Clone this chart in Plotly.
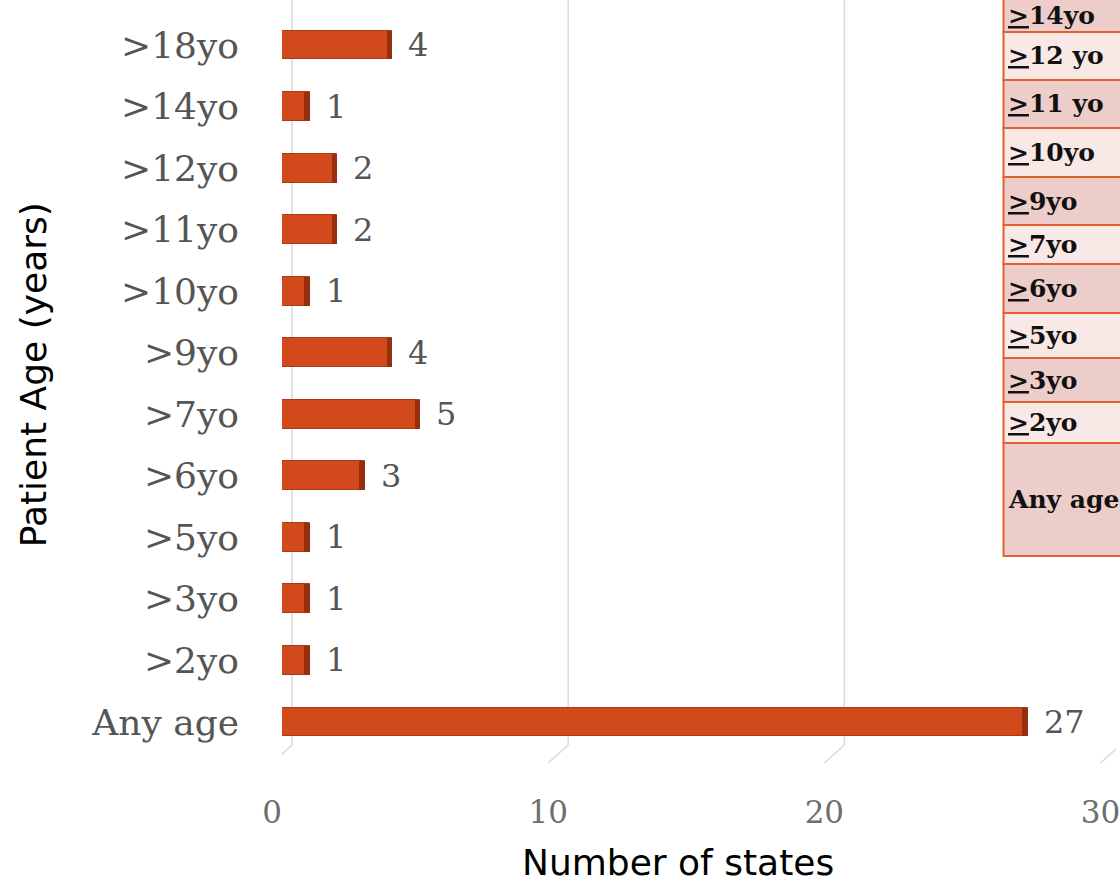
import plotly.graph_objects as go

# ---- data ----
categories = [">18yo", ">14yo", ">12yo", ">11yo", ">10yo", ">9yo", ">7yo",
              ">6yo", ">5yo", ">3yo", ">2yo", "Any age"]
num_states = [4, 1, 2, 2, 1, 4, 5, 3, 1, 1, 1, 27]
x_ticks = [0, 10, 20, 30]

table_labels = ["<u>&gt;</u>14yo", "<u>&gt;</u>12 yo", "<u>&gt;</u>11 yo", "<u>&gt;</u>10yo",
                "<u>&gt;</u>9yo", "<u>&gt;</u>7yo", "<u>&gt;</u>6yo", "<u>&gt;</u>5yo",
                "<u>&gt;</u>3yo", "<u>&gt;</u>2yo", "Any age"]

# ---- layout geometry (pixels) ----
W, H = 1120, 884
ML, MT, MB = 282, 0, 139
PW, PH = W - ML, H - MT - MB
XMAX = PW / 27.75


def pxx(p):
    return (p - ML) / PW


def pxy(p):
    return 1 - (p - MT) / PH


table_edges = [-5, 32, 80, 128, 177, 225, 264, 313, 358, 402, 443, 556]
table_fill = ["#edcdc9", "#f8e9e7"]

BAR = "#d24a1c"
CAP = "#972f0e"
SERIF = "DejaVu Serif"
SANS = "DejaVu Sans"

fig = go.Figure()
cap_w = 0.2
fig.add_trace(go.Bar(
    y=categories, x=num_states, orientation="h",
    marker=dict(color=BAR, line=dict(color="#a83c15", width=1)),
    width=0.47, hoverinfo="skip", showlegend=False,
))
fig.add_trace(go.Bar(
    y=categories, x=[cap_w] * len(num_states), base=[v - cap_w for v in num_states],
    orientation="h", marker=dict(color=CAP, line=dict(width=0)),
    width=0.47, hoverinfo="skip", showlegend=False,
))

shapes = []
# back-wall gridlines and floor diagonals
for v in x_ticks:
    shapes.append(dict(type="line", xref="x", yref="paper", xsizemode="pixel",
                       xanchor=v, x0=10, x1=10, y0=0, y1=1,
                       line=dict(color="#d9d9d9", width=1.5), layer="below"))
    shapes.append(dict(type="line", xref="x", yref="paper", xsizemode="pixel",
                       ysizemode="pixel", xanchor=v, yanchor=0,
                       x0=10, x1=-10, y0=0, y1=-18,
                       line=dict(color="#d9d9d9", width=1.5), layer="below"))

# overlaid table on the right
for i, lab in enumerate(table_labels):
    top, bot = table_edges[i], table_edges[i + 1]
    shapes.append(dict(type="rect", xref="paper", yref="paper",
                       x0=pxx(1007), x1=pxx(1140), y0=pxy(bot), y1=pxy(top),
                       fillcolor=table_fill[i % 2],
                       line=dict(color="#e0602e", width=2), layer="above"))

annotations = []
for i, lab in enumerate(table_labels):
    top, bot = table_edges[i], table_edges[i + 1]
    annotations.append(dict(x=pxx(1009), y=pxy((max(top, 0) + bot) / 2),
                            xref="paper", yref="paper", xanchor="left", yanchor="middle",
                            text=lab, showarrow=False,
                            font=dict(family=SERIF, size=25, color="#111111", weight="bold")))

# value labels
for c, v in zip(categories, num_states):
    annotations.append(dict(x=v, y=c, xref="x", yref="y", xanchor="left", yanchor="middle",
                            xshift=14, text=str(v), showarrow=False,
                            font=dict(family=SERIF, size=32, color="#555555")))

# axis titles
annotations.append(dict(x=pxx(32), y=pxy(375), xref="paper", yref="paper",
                        text="Patient Age (years)", textangle=-90, showarrow=False,
                        xanchor="center", yanchor="middle",
                        font=dict(family=SANS, size=36, color="#000000")))
annotations.append(dict(x=pxx(680), y=pxy(862), xref="paper", yref="paper",
                        text="Number of states", showarrow=False,
                        xanchor="center", yanchor="middle",
                        font=dict(family=SANS, size=36, color="#000000")))

fig.update_layout(
    width=W, height=H,
    margin=dict(l=ML, r=0, t=MT, b=MB, pad=0),
    paper_bgcolor="white", plot_bgcolor="white",
    barmode="overlay", bargap=0,
    shapes=shapes, annotations=annotations,
    xaxis=dict(range=[0, XMAX], tickvals=x_ticks, ticktext=[str(t) for t in x_ticks],
               showgrid=False, zeroline=False, showline=False, ticks="",
               ticklabelshift=-10, ticklabelstandoff=46, ticklabeloverflow="allow",
               tickfont=dict(family=SERIF, size=31, color="#6e6e6e")),
    yaxis=dict(type="category", categoryorder="array", categoryarray=categories,
               range=[11.374, -0.731], showgrid=False, zeroline=False, showline=False,
               ticks="", ticklabelstandoff=42,
               tickfont=dict(family=SERIF, size=36, color="#555555")),
    showlegend=False,
)

fig.write_html("out.html")
